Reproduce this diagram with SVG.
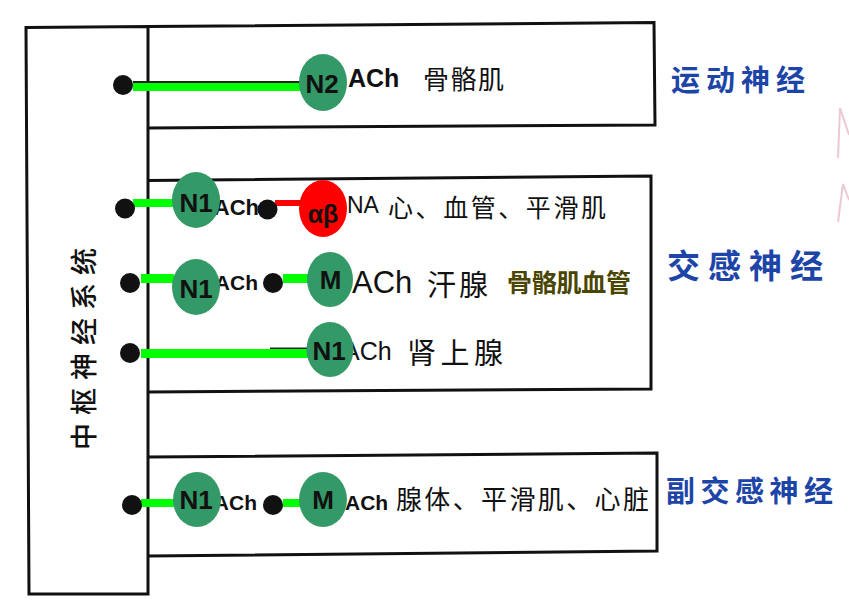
<svg xmlns="http://www.w3.org/2000/svg" width="849" height="609" viewBox="0 0 849 609">
<style>
.box{fill:none;stroke:#111;stroke-width:3;stroke-linejoin:miter}
.dot{fill:#111}
.green{fill:#00ff00}
.red{fill:#ff0000}
.thin{stroke:#222;stroke-width:2}
.rec{fill:#339966}
.recr{fill:#ff0000}
.rl{font-family:"Liberation Sans",Arial,sans-serif;font-weight:bold;font-size:26px;fill:#111;text-anchor:middle}
.ach{font-family:"Liberation Sans",Arial,sans-serif;font-weight:bold;font-size:21px;fill:#111}
.lat{font-family:"Liberation Sans",Arial,sans-serif;font-size:23px;fill:#111}
.cjk{font-family:"Noto Sans CJK SC",sans-serif;font-size:25px;fill:#111}
.blue{font-family:"Noto Sans CJK SC",sans-serif;font-weight:bold;fill:#1d45a8}
.olive{font-family:"Noto Sans CJK SC",sans-serif;font-weight:bold;font-size:25px;fill:#4a4500}
</style>
<rect width="849" height="609" fill="#fff"/>
<path d="M838,158 L840,108 L849,135 M838,222 L843,184 L849,200" fill="none" stroke="#ecc9d2" stroke-width="2"/>

<g id="cns">
<path class="box" d="M26,27.5 L148,26.6 L148,594 L29,594 Z"/>
<text class="cjk" transform="translate(94,349) rotate(-90)" text-anchor="middle" textLength="202" lengthAdjust="spacing" style="font-size:27px;font-weight:500">中枢神经系统</text>
</g>

<g id="motor-box">
<path class="box" d="M148,26.6 L654,22.5 L655,125 L148,128"/>
</g>
<g id="sympathetic-box">
<path class="box" d="M148,180.5 L651,176 L651,389 L148,392"/>
</g>
<g id="parasympathetic-box">
<path class="box" d="M148,457 L657,453 L657,551 L148,556"/>
</g>

<g id="labels">
<text class="blue" x="671" y="91" style="font-size:29px" textLength="134" lengthAdjust="spacing">运动神经</text>
<text class="blue" x="667" y="278" style="font-size:33px" textLength="156" lengthAdjust="spacing">交感神经</text>
<text class="blue" x="666" y="502" style="font-size:29px" textLength="167" lengthAdjust="spacing">副交感神经</text>

<text class="ach" x="348" y="87" style="font-size:25px">ACh</text>
<text class="cjk" x="423" y="89" style="font-size:26px" textLength="81" lengthAdjust="spacing">骨骼肌</text>

<text class="ach" x="259" y="215" text-anchor="end" style="font-size:22px">ACh</text>
<text class="lat" y="213"><tspan x="347">NA</tspan><tspan class="cjk" x="388" y="217" textLength="218" lengthAdjust="spacing">心、血管、平滑肌</tspan></text>

<text class="ach" x="258" y="290" text-anchor="end">ACh</text>
<text class="lat" y="293" style="font-size:31px"><tspan x="352">ACh</tspan><tspan class="cjk" x="427" y="296" style="font-size:29px" textLength="61" lengthAdjust="spacing">汗腺</tspan></text>
<text class="olive" x="507" y="292" textLength="124" lengthAdjust="spacing">骨骼肌血管</text>

<text class="lat" y="360" style="font-size:25px"><tspan x="343">ACh</tspan><tspan class="cjk" x="407" y="364" style="font-size:29px" textLength="96" lengthAdjust="spacing">肾上腺</tspan></text>

<text class="ach" x="257" y="510" text-anchor="end">ACh</text>
<text class="ach" y="510"><tspan x="345">ACh</tspan><tspan class="cjk" x="396" y="509" style="font-size:26px;font-weight:normal" textLength="253" lengthAdjust="spacing">腺体、平滑肌、心脏</tspan></text>
</g>

<g id="connectors">
<line class="thin" x1="133" y1="82" x2="300" y2="82"/>
<rect class="green" x="133" y="83" width="168" height="8"/>
<rect class="green" x="133" y="199" width="41" height="8"/>
<rect class="red" x="275" y="200" width="26" height="6"/>
<rect class="green" x="141" y="274" width="33" height="9"/>
<rect class="green" x="283" y="274" width="26" height="9"/>
<line class="thin" x1="270" y1="348.5" x2="308" y2="348.5"/>
<rect class="green" x="141" y="349" width="169" height="9"/>
<rect class="green" x="141" y="499" width="33" height="8"/>
<rect class="green" x="283" y="499" width="18" height="8"/>
</g>

<g id="dot-motor"><circle class="dot" cx="123" cy="85" r="10"/></g>
<g id="dot-s1a"><circle class="dot" cx="125" cy="208.5" r="10"/></g>
<g id="dot-s1b"><circle class="dot" cx="267.5" cy="209.5" r="10"/></g>
<g id="dot-s2a"><circle class="dot" cx="130" cy="283" r="10"/></g>
<g id="dot-s2b"><circle class="dot" cx="273" cy="283" r="10"/></g>
<g id="dot-s3"><circle class="dot" cx="130" cy="353" r="10"/></g>
<g id="dot-p1a"><circle class="dot" cx="132" cy="505" r="10"/></g>
<g id="dot-p1b"><circle class="dot" cx="273" cy="505" r="10"/></g>

<g id="n2-motor"><ellipse class="rec" cx="323" cy="82.5" rx="24" ry="28.5"/><text class="rl" x="322" y="93">N2</text></g>
<g id="n1-s1"><ellipse class="rec" cx="196" cy="200" rx="24" ry="28"/><text class="rl" x="196" y="212">N1</text></g>
<g id="ab-s1"><ellipse class="recr" cx="323" cy="208.5" rx="24" ry="28.5"/><text class="rl" x="323" y="223" style="font-size:25px">αβ</text></g>
<g id="n1-s2"><ellipse class="rec" cx="196" cy="287" rx="24" ry="28"/><text class="rl" x="196" y="298">N1</text></g>
<g id="m-s2"><ellipse class="rec" cx="330" cy="279.5" rx="23" ry="27.5"/><text class="rl" x="330.5" y="289">M</text></g>
<g id="n1-s3"><ellipse class="rec" cx="330" cy="349.5" rx="23.5" ry="27.5"/><text class="rl" x="329" y="360">N1</text></g>
<g id="n1-p1"><ellipse class="rec" cx="197" cy="499.5" rx="24" ry="27.5"/><text class="rl" x="196" y="509">N1</text></g>
<g id="m-p1"><ellipse class="rec" cx="323" cy="499.5" rx="24" ry="27.5"/><text class="rl" x="323" y="509">M</text></g>
</svg>
